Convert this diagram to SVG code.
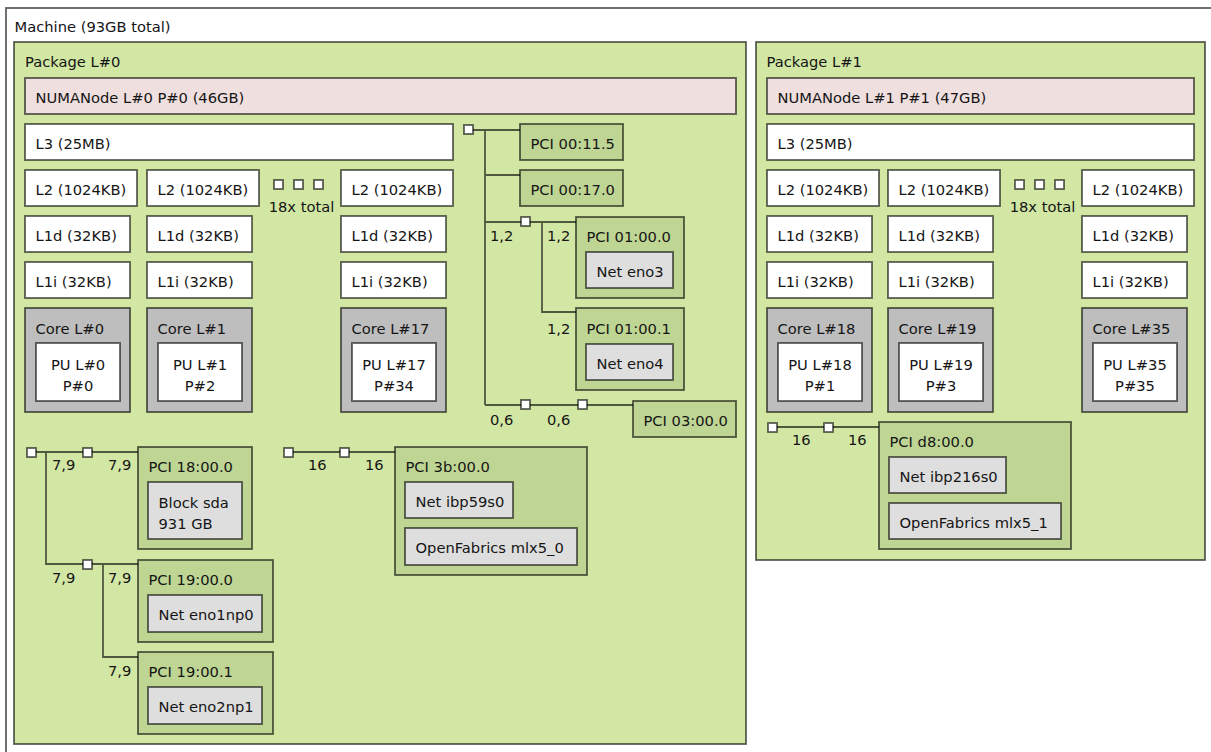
<svg xmlns="http://www.w3.org/2000/svg" width="1211" height="752" viewBox="0 0 1211 752">
<style>
rect{stroke:#000;stroke-opacity:0.62;stroke-width:1.8}
.m{fill:#ffffff}
.pk{fill:#d2e7a4}
.nu{fill:#efdfde}
.ca{fill:#ffffff}
.co{fill:#bebebe}
.pu{fill:#ffffff}
.pci{fill:#bed594}
.os{fill:#dedede}
.br{fill:#ffffff}
.ln{fill:none;stroke:#000;stroke-opacity:0.62;stroke-width:1.8}
text{font-family:"DejaVu Sans","Liberation Sans",sans-serif;font-size:14.7px;fill:#151515}
.c{text-anchor:middle}
</style>
<g id="machine"><rect class="m" x="6" y="8" width="1240" height="770"/><text x="14.5" y="31.5">Machine (93GB total)</text></g>

<g id="package0"><rect class="pk" x="14" y="42" width="732" height="702"/><text x="25" y="67">Package L#0</text></g>
<g id="numa0"><rect class="nu" x="25" y="78" width="711" height="36"/><text x="35.5" y="103">NUMANode L#0 P#0 (46GB)</text></g>
<g id="l3_0"><rect class="ca" x="25" y="124" width="428" height="36"/><text x="35.5" y="149">L3 (25MB)</text></g>
<g id="l2_0"><rect class="ca" x="25" y="170" width="112" height="36"/><text x="35.5" y="195">L2 (1024KB)</text></g>
<g id="l2_1"><rect class="ca" x="147" y="170" width="112" height="36"/><text x="157.5" y="195">L2 (1024KB)</text></g>
<g id="l2_17"><rect class="ca" x="341" y="170" width="112" height="36"/><text x="351.5" y="195">L2 (1024KB)</text></g>
<g id="more0"><rect class="br" x="274" y="180" width="9" height="9"/><rect class="br" x="294" y="180" width="9" height="9"/><rect class="br" x="314" y="180" width="9" height="9"/><text class="c" x="301.5" y="211.5">18x total</text></g>
<g id="l1d_0"><rect class="ca" x="25" y="216" width="105" height="36"/><text x="35.5" y="241">L1d (32KB)</text></g>
<g id="l1d_1"><rect class="ca" x="147" y="216" width="105" height="36"/><text x="157.5" y="241">L1d (32KB)</text></g>
<g id="l1d_17"><rect class="ca" x="341" y="216" width="105" height="36"/><text x="351.5" y="241">L1d (32KB)</text></g>
<g id="l1i_0"><rect class="ca" x="25" y="262" width="105" height="36"/><text x="35.5" y="287">L1i (32KB)</text></g>
<g id="l1i_1"><rect class="ca" x="147" y="262" width="105" height="36"/><text x="157.5" y="287">L1i (32KB)</text></g>
<g id="l1i_17"><rect class="ca" x="341" y="262" width="105" height="36"/><text x="351.5" y="287">L1i (32KB)</text></g>
<g id="core0"><rect class="co" x="25" y="308" width="105" height="104"/><text x="35.5" y="334">Core L#0</text></g>
<g id="pu0"><rect class="pu" x="36" y="343" width="84" height="58"/><text class="c" x="78" y="370">PU L#0</text><text class="c" x="78" y="390.5">P#0</text></g>
<g id="core1"><rect class="co" x="147" y="308" width="105" height="104"/><text x="157.5" y="334">Core L#1</text></g>
<g id="pu1"><rect class="pu" x="158" y="343" width="84" height="58"/><text class="c" x="200" y="370">PU L#1</text><text class="c" x="200" y="390.5">P#2</text></g>
<g id="core17"><rect class="co" x="341" y="308" width="105" height="104"/><text x="351.5" y="334">Core L#17</text></g>
<g id="pu17"><rect class="pu" x="352" y="343" width="84" height="58"/><text class="c" x="394" y="370">PU L#17</text><text class="c" x="394" y="390.5">P#34</text></g>

<g id="package1"><rect class="pk" x="756" y="42" width="449" height="518"/><text x="766.5" y="67">Package L#1</text></g>
<g id="numa1"><rect class="nu" x="767" y="78" width="427" height="36"/><text x="777.5" y="103">NUMANode L#1 P#1 (47GB)</text></g>
<g id="l3_1"><rect class="ca" x="767" y="124" width="427" height="36"/><text x="777.5" y="149">L3 (25MB)</text></g>
<g id="l2_18"><rect class="ca" x="767" y="170" width="112" height="36"/><text x="777.5" y="195">L2 (1024KB)</text></g>
<g id="l2_19"><rect class="ca" x="888" y="170" width="112" height="36"/><text x="898.5" y="195">L2 (1024KB)</text></g>
<g id="l2_35"><rect class="ca" x="1082" y="170" width="112" height="36"/><text x="1092.5" y="195">L2 (1024KB)</text></g>
<g id="more1"><rect class="br" x="1015" y="180" width="9" height="9"/><rect class="br" x="1035" y="180" width="9" height="9"/><rect class="br" x="1055" y="180" width="9" height="9"/><text class="c" x="1042.5" y="211.5">18x total</text></g>
<g id="l1d_18"><rect class="ca" x="767" y="216" width="105" height="36"/><text x="777.5" y="241">L1d (32KB)</text></g>
<g id="l1d_19"><rect class="ca" x="888" y="216" width="105" height="36"/><text x="898.5" y="241">L1d (32KB)</text></g>
<g id="l1d_35"><rect class="ca" x="1082" y="216" width="105" height="36"/><text x="1092.5" y="241">L1d (32KB)</text></g>
<g id="l1i_18"><rect class="ca" x="767" y="262" width="105" height="36"/><text x="777.5" y="287">L1i (32KB)</text></g>
<g id="l1i_19"><rect class="ca" x="888" y="262" width="105" height="36"/><text x="898.5" y="287">L1i (32KB)</text></g>
<g id="l1i_35"><rect class="ca" x="1082" y="262" width="105" height="36"/><text x="1092.5" y="287">L1i (32KB)</text></g>
<g id="core18"><rect class="co" x="767" y="308" width="105" height="104"/><text x="777.5" y="334">Core L#18</text></g>
<g id="pu18"><rect class="pu" x="778" y="343" width="84" height="58"/><text class="c" x="820" y="370">PU L#18</text><text class="c" x="820" y="390.5">P#1</text></g>
<g id="core19"><rect class="co" x="888" y="308" width="105" height="104"/><text x="898.5" y="334">Core L#19</text></g>
<g id="pu19"><rect class="pu" x="899" y="343" width="84" height="58"/><text class="c" x="941" y="370">PU L#19</text><text class="c" x="941" y="390.5">P#3</text></g>
<g id="core35"><rect class="co" x="1082" y="308" width="105" height="104"/><text x="1092.5" y="334">Core L#35</text></g>
<g id="pu35"><rect class="pu" x="1093" y="343" width="84" height="58"/><text class="c" x="1135" y="370">PU L#35</text><text class="c" x="1135" y="390.5">P#35</text></g>

<g id="connectors">
<path class="ln" d="M473 130H520M485 130V405M485 175H520M485 222H576M542 222V312H576M485 405H633"/>
<path class="ln" d="M36 452H138M46 452V564H138M103 564V657H138"/>
<path class="ln" d="M293 452H395"/>
<path class="ln" d="M777 427H879"/>
<text x="490" y="241">1,2</text><text x="547" y="241">1,2</text><text x="547" y="333.5">1,2</text>
<text x="490" y="425">0,6</text><text x="547" y="425">0,6</text>
<text x="52" y="470">7,9</text><text x="108" y="470">7,9</text>
<text x="52" y="583">7,9</text><text x="108" y="583">7,9</text><text x="108" y="675.5">7,9</text>
<text x="308" y="470">16</text><text x="365" y="470">16</text>
<text x="792" y="445">16</text><text x="848" y="445">16</text>
</g>

<g id="hostbridge0"><rect class="br" x="464" y="125" width="9" height="9"/></g>
<g id="bridge_01"><rect class="br" x="521" y="217" width="9" height="9"/></g>
<g id="hostbridge_03"><rect class="br" x="521" y="400" width="9" height="9"/></g>
<g id="bridge_03"><rect class="br" x="578" y="400" width="9" height="9"/></g>
<g id="hostbridge_18"><rect class="br" x="27" y="448" width="9" height="9"/></g>
<g id="bridge_18"><rect class="br" x="83" y="448" width="9" height="9"/></g>
<g id="bridge_19"><rect class="br" x="83" y="560" width="9" height="9"/></g>
<g id="hostbridge_3b"><rect class="br" x="284" y="448" width="9" height="9"/></g>
<g id="bridge_3b"><rect class="br" x="340" y="448" width="9" height="9"/></g>
<g id="hostbridge_d8"><rect class="br" x="768" y="423" width="9" height="9"/></g>
<g id="bridge_d8"><rect class="br" x="824" y="423" width="9" height="9"/></g>

<g id="pci_00_11_5"><rect class="pci" x="520" y="124" width="103" height="36"/><text x="530.5" y="149">PCI 00:11.5</text></g>
<g id="pci_00_17_0"><rect class="pci" x="520" y="170" width="103" height="36"/><text x="530.5" y="195">PCI 00:17.0</text></g>
<g id="pci_01_00_0"><rect class="pci" x="576" y="217" width="108" height="81"/><text x="586.5" y="241.5">PCI 01:00.0</text></g>
<g id="net_eno3"><rect class="os" x="586" y="252" width="87" height="36"/><text x="596.5" y="277">Net eno3</text></g>
<g id="pci_01_00_1"><rect class="pci" x="576" y="308" width="108" height="82"/><text x="586.5" y="333.5">PCI 01:00.1</text></g>
<g id="net_eno4"><rect class="os" x="586" y="344" width="87" height="36"/><text x="596.5" y="369">Net eno4</text></g>
<g id="pci_03_00_0"><rect class="pci" x="633" y="401" width="103" height="36"/><text x="643.5" y="426">PCI 03:00.0</text></g>

<g id="pci_18_00_0"><rect class="pci" x="138" y="447" width="114" height="102"/><text x="148.5" y="472">PCI 18:00.0</text></g>
<g id="block_sda"><rect class="os" x="148" y="482" width="94" height="57"/><text x="158.5" y="507.5">Block sda</text><text x="158.5" y="528.5">931 GB</text></g>
<g id="pci_19_00_0"><rect class="pci" x="138" y="560" width="135" height="82"/><text x="148.5" y="585">PCI 19:00.0</text></g>
<g id="net_eno1np0"><rect class="os" x="148" y="595" width="114" height="37"/><text x="158.5" y="620">Net eno1np0</text></g>
<g id="pci_19_00_1"><rect class="pci" x="138" y="652" width="135" height="82"/><text x="148.5" y="677">PCI 19:00.1</text></g>
<g id="net_eno2np1"><rect class="os" x="148" y="687" width="114" height="37"/><text x="158.5" y="712">Net eno2np1</text></g>

<g id="pci_3b_00_0"><rect class="pci" x="395" y="447" width="192" height="128"/><text x="405.5" y="472">PCI 3b:00.0</text></g>
<g id="net_ibp59s0"><rect class="os" x="405" y="482" width="108" height="36"/><text x="415.5" y="507">Net ibp59s0</text></g>
<g id="of_mlx5_0"><rect class="os" x="405" y="528" width="172" height="37"/><text x="415.5" y="553">OpenFabrics mlx5_0</text></g>

<g id="pci_d8_00_0"><rect class="pci" x="879" y="422" width="192" height="127"/><text x="889.5" y="447">PCI d8:00.0</text></g>
<g id="net_ibp216s0"><rect class="os" x="889" y="457" width="117" height="36"/><text x="899.5" y="482">Net ibp216s0</text></g>
<g id="of_mlx5_1"><rect class="os" x="889" y="503" width="172" height="36"/><text x="899.5" y="528">OpenFabrics mlx5_1</text></g>
</svg>
